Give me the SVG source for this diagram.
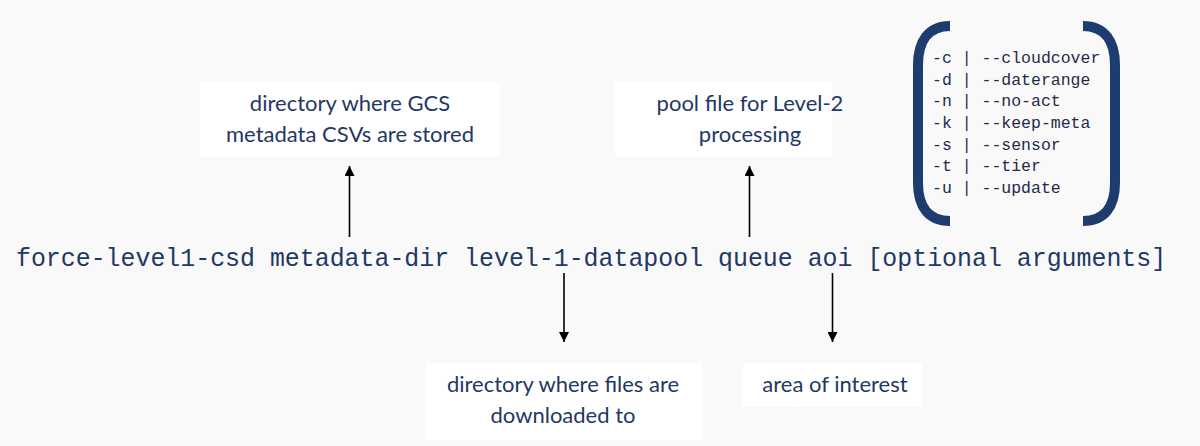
<svg xmlns="http://www.w3.org/2000/svg" width="1200" height="446" viewBox="0 0 1200 446">
<defs>
<marker id="ah" viewBox="0 0 10 10" refX="10" refY="5" markerWidth="10" markerHeight="10" markerUnits="userSpaceOnUse" orient="auto">
<path d="M0,0 L10,5 L0,10 Z" fill="#000"/>
</marker>
</defs>
<style>
.bg{fill:#f9f9f9}
.box{fill:#ffffff}
.lbl{font-family:Lato,"Open Sans","Liberation Sans",sans-serif;font-size:22px;fill:#1f3864;text-anchor:middle}
.cmd{font-family:"Liberation Mono","DejaVu Sans Mono",monospace;font-size:24.9px;fill:#1f3864}
.opt{font-family:"Liberation Mono","DejaVu Sans Mono",monospace;font-size:16.5px;fill:#1f2a4a}
.br{fill:none;stroke:#1f3c6e;stroke-width:10}
.arr{stroke:#000;stroke-width:1.6;fill:none;marker-end:url(#ah)}
</style>
<rect class="bg" x="0" y="0" width="1200" height="446"/>

<g id="node-gcs">
<rect class="box" x="200" y="82" width="300" height="75"/>
<text class="lbl" x="350" y="111">directory where GCS</text>
<text class="lbl" x="350" y="142">metadata CSVs are stored</text>
</g>

<g id="node-pool">
<rect class="box" x="615" y="82" width="217" height="75"/>
<text class="lbl" x="750" y="111">pool file for Level-2</text>
<text class="lbl" x="750" y="142">processing</text>
</g>

<g id="node-options">
<path class="br" d="M950,26 C928,26 918,42 918,65 L918,183 C918,206 928,221 950,221"/>
<path class="br" d="M1083,26 C1105,26 1115,42 1115,65 L1115,183 C1115,206 1105,221 1083,221"/>
<text class="opt" x="932" y="63">-c | --cloudcover</text>
<text class="opt" x="932" y="84.7">-d | --daterange</text>
<text class="opt" x="932" y="106.3">-n | --no-act</text>
<text class="opt" x="932" y="128">-k | --keep-meta</text>
<text class="opt" x="932" y="149.7">-s | --sensor</text>
<text class="opt" x="932" y="171.3">-t | --tier</text>
<text class="opt" x="932" y="193">-u | --update</text>
</g>

<g id="node-command">
<text class="cmd" x="16" y="266">force-level1-csd metadata-dir level-1-datapool queue aoi [optional arguments]</text>
</g>

<g id="node-download">
<rect class="box" x="426" y="363" width="276" height="77"/>
<text class="lbl" x="563" y="392">directory where files are</text>
<text class="lbl" x="563" y="423">downloaded to</text>
</g>

<g id="node-aoi">
<rect class="box" x="743" y="363" width="179" height="44"/>
<text class="lbl" x="835" y="392">area of interest</text>
</g>

<g id="connectors">
<line class="arr" x1="349.5" y1="237" x2="349.5" y2="166"/>
<line class="arr" x1="749.5" y1="237" x2="749.5" y2="166"/>
<line class="arr" x1="564" y1="273" x2="564" y2="342"/>
<line class="arr" x1="832.5" y1="273" x2="832.5" y2="342"/>
</g>
</svg>
